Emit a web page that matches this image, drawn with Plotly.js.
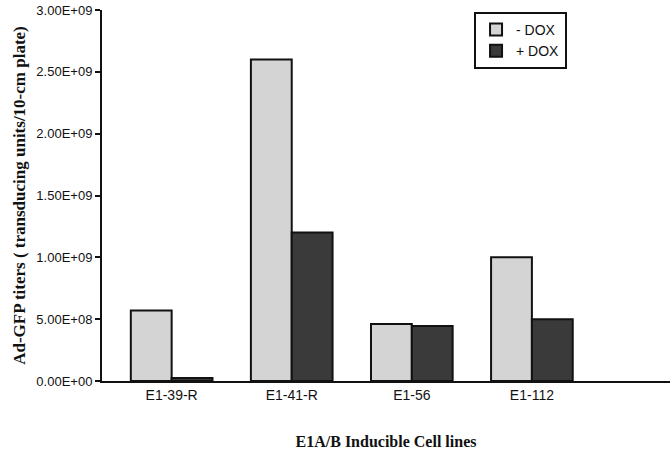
<!DOCTYPE html>
<html>
<head>
<meta charset="utf-8">
<script src="https://cdn.plot.ly/plotly-3.0.1.min.js"></script>
<style>html,body{margin:0;padding:0;background:#fff;}#chart{width:672px;height:459px;}</style>
</head>
<body>
<div id="chart"></div>
<script>
const categories = ["E1-39-R", "E1-41-R", "E1-56", "E1-112"];
const minusDox = [5.7e8, 2.6e9, 4.6e8, 1.0e9];
const plusDox = [2.4e7, 1.2e9, 4.45e8, 5.0e8];
const yTickVals = [0, 5e8, 1e9, 1.5e9, 2e9, 2.5e9, 3e9];
const yTickText = ["0.00E+00", "5.00E+08", "1.00E+09", "1.50E+09", "2.00E+09", "2.50E+09", "3.00E+09"];

const traces = [
  {type: "bar", name: "- DOX", x: categories, y: minusDox,
   marker: {color: "#d4d4d4", line: {color: "#111", width: 2}}},
  {type: "bar", name: "+ DOX", x: categories, y: plusDox,
   marker: {color: "#3a3a3a", line: {color: "#111", width: 2}}}
];

const layout = {
  width: 672, height: 459,
  margin: {l: 102, r: 2, t: 10, b: 78},
  paper_bgcolor: "#fff", plot_bgcolor: "#fff",
  barmode: "group", bargap: 0.32, bargroupgap: 0,
  showlegend: true,
  legend: {x: 0.655, y: 0.995, xanchor: "left", yanchor: "top",
           bordercolor: "#111", borderwidth: 2, bgcolor: "#fff", itemwidth: 30,
           font: {family: "Liberation Sans, Arial, sans-serif", size: 14, color: "#111"},
           tracegroupgap: 0},
  xaxis: {type: "category", range: [-0.58, 4.15], showline: true, linecolor: "#111", linewidth: 2,
          ticks: "", showgrid: false, zeroline: false,
          tickfont: {family: "Liberation Sans, Arial, sans-serif", size: 14, color: "#111"},
          title: {text: "E1A/B Inducible Cell lines", standoff: 34,
                  font: {family: "Liberation Serif, Times New Roman, serif", size: 16, color: "#111", weight: "bold"}}},
  yaxis: {range: [0, 3e9], showline: true, linecolor: "#111", linewidth: 2,
          ticks: "outside", ticklen: 5, tickwidth: 2, tickcolor: "#111",
          tickvals: yTickVals, ticktext: yTickText, showgrid: false, zeroline: false,
          tickfont: {family: "Liberation Sans, Arial, sans-serif", size: 13, color: "#111"},
          title: {text: "Ad-GFP titers ( transducing units/10-cm plate)", standoff: 6,
                  font: {family: "Liberation Serif, Times New Roman, serif", size: 17, color: "#111", weight: "bold"}}}
};

Plotly.newPlot("chart", traces, layout, {displayModeBar: false, staticPlot: true});
</script>
</body>
</html>
